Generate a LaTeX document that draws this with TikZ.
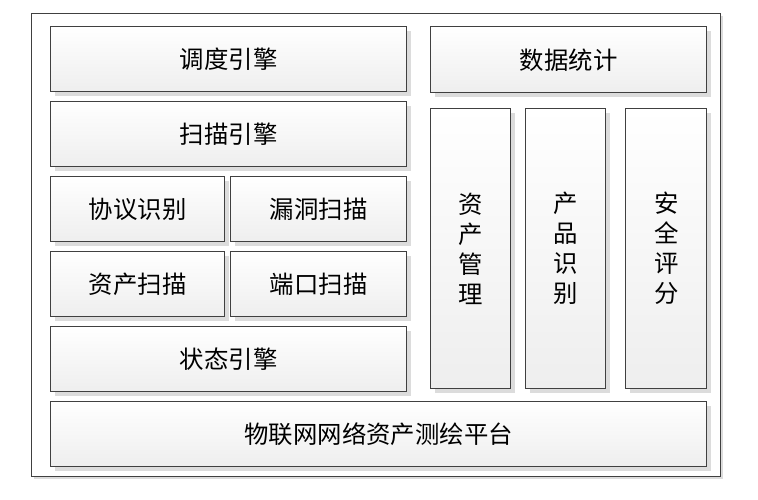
\documentclass[tikz,border=0pt]{standalone}
\usepackage{fontspec}
\setmainfont{Noto Sans CJK SC}
\usetikzlibrary{shadows}
\definecolor{edge}{HTML}{404040}
\definecolor{shad}{HTML}{DCDCDC}
\definecolor{fillbot}{HTML}{EEEEEE}
\tikzset{
  blk/.style={draw=edge, line width=1.1pt, top color=white, bottom color=fillbot,
    drop shadow={shadow xshift=3pt, shadow yshift=-3pt, fill=shad, opacity=1},
    font=\fontsize{18.3}{22.5}\selectfont, align=center, inner sep=0pt},
  frame/.style={draw=edge, line width=1pt, fill=white,
    drop shadow={shadow xshift=2pt, shadow yshift=-2pt, fill=shad, opacity=1}},
}
\begin{document}
\begin{tikzpicture}[x=0.75pt,y=-0.75pt]
\useasboundingbox (0,0) rectangle (758,500);
\node[frame, minimum width=689*0.75pt, minimum height=463*0.75pt, anchor=north west] (outer) at (31,13) {};
\newcommand{\blkat}[6]{\node[blk, anchor=north west, minimum width=#4*0.75pt, minimum height=#5*0.75pt] (#1) at (#2,#3) {#6};}
\blkat{dd}{50}{26}{356}{65}{调度引擎}
\blkat{sm}{50}{101}{356}{65}{扫描引擎}
\blkat{xy}{50}{176}{174}{65}{协议识别}
\blkat{ld}{230}{176}{176}{65}{漏洞扫描}
\blkat{zc}{50}{251}{174}{65}{资产扫描}
\blkat{dk}{230}{251}{176}{65}{端口扫描}
\blkat{zt}{50}{326}{356}{65}{状态引擎}
\blkat{pt}{50}{401}{656}{65}{物联网网络资产测绘平台}
\blkat{sj}{430}{26}{276}{66}{数据统计}
\blkat{gl}{430}{108}{80}{280}{资\\产\\管\\理}
\blkat{cp}{525}{108}{80}{280}{产\\品\\识\\别}
\blkat{aq}{625}{108}{81}{280}{安\\全\\评\\分}
\end{tikzpicture}
\end{document}
